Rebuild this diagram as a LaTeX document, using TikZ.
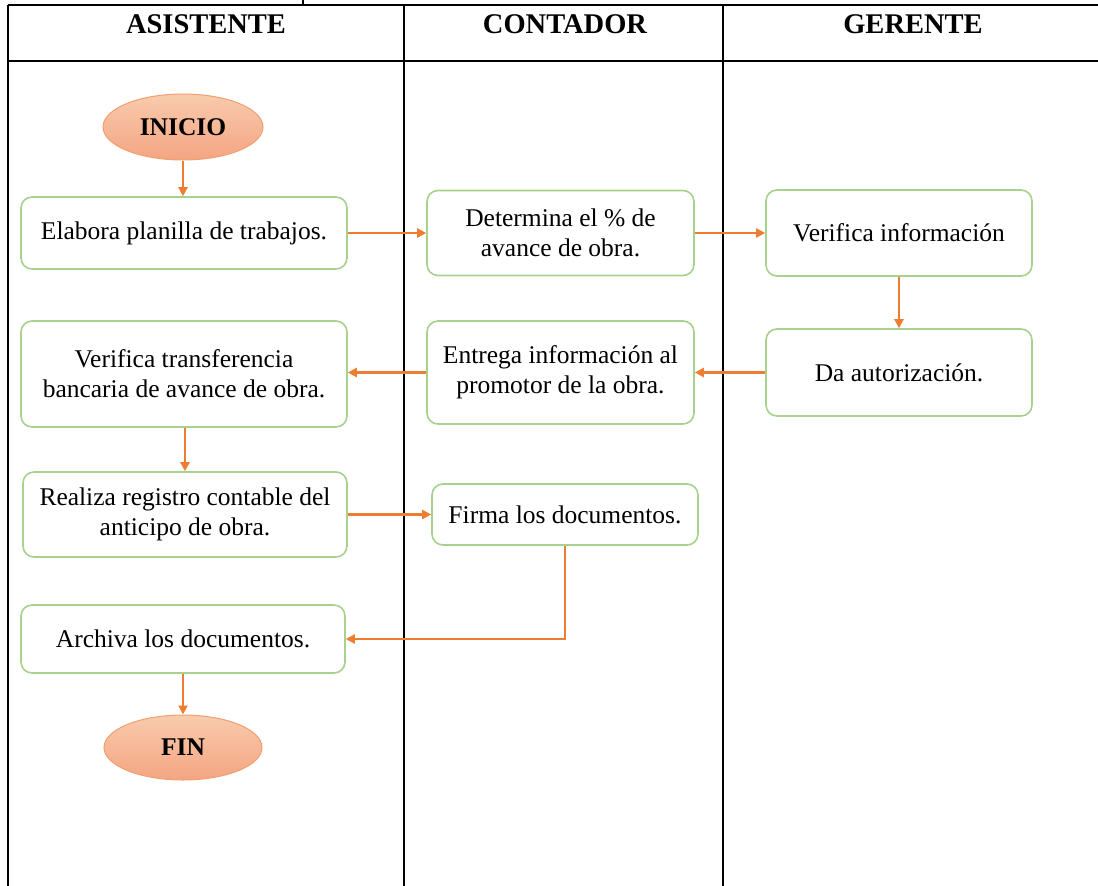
\documentclass[tikz,border=0pt]{standalone}
\usepackage{fontspec}
\setmainfont{Liberation Serif}
\usetikzlibrary{shapes.geometric,arrows.meta}
\definecolor{boxgreen}{HTML}{A9D18E}
\definecolor{arrorange}{HTML}{ED7D31}
\definecolor{ellA}{HTML}{F8CBAD}
\definecolor{ellB}{HTML}{F4A582}
\definecolor{ellEdge}{HTML}{F0A070}
\tikzset{
  lane/.style={line width=2.2pt, black},
  stepbox/.style={draw=boxgreen, line width=1.6pt, rounded corners=11pt, fill=white, align=center, font=\fontsize{25.5}{30}\selectfont, inner sep=0pt},
  term/.style={ellipse, draw=ellEdge, line width=1pt, top color=ellA, bottom color=ellB, font=\fontsize{25.5}{30}\selectfont\bfseries, inner sep=0pt},
  hdr/.style={font=\fontsize{28.5}{32}\selectfont\bfseries},
  flow/.style={draw=arrorange, line width=2.2pt, -{Triangle[length=9pt,width=9pt]}},
}
\begin{document}
\begin{tikzpicture}[x=1pt,y=-1pt]
\useasboundingbox (0,0) rectangle (1098,886);
% table lines
\draw[lane] (8,5) -- (1098,5);
\draw[lane] (303,0) -- (303,5);
\draw[lane] (8,5) -- (8,886);
\draw[lane] (404,5) -- (404,886);
\draw[lane] (723,5) -- (723,886);
\draw[lane] (8,61) -- (1098,61);
% headers
\node[hdr] (h1) at (206,24) {ASISTENTE};
\node[hdr] (h2) at (565,24) {CONTADOR};
\node[hdr] (h3) at (913,24) {GERENTE};
% nodes
\node[term, minimum width=160pt, minimum height=66pt] (inicio) at (183,127) {INICIO};
\node[stepbox, minimum width=326pt, minimum height=72pt] (b1) at (184,233) {Elabora planilla de trabajos.};
\node[stepbox, minimum width=267pt, minimum height=85pt] (b2) at (560.5,233) {Determina el \% de\\avance de obra.};
\node[stepbox, minimum width=266pt, minimum height=86pt] (b3) at (899,233) {Verifica información};
\node[stepbox, minimum width=266pt, minimum height=87pt] (b4) at (899,372.5) {Da autorización.};
\node[stepbox, minimum width=267pt, minimum height=103pt] (b5) at (560.5,372.5) {Entrega información al\\promotor de la obra.};
\node[stepbox, minimum width=326pt, minimum height=106pt] (b6) at (184,374) {Verifica transferencia\\bancaria de avance de obra.};
\node[stepbox, minimum width=324pt, minimum height=85pt] (b7) at (185,514.5) {Realiza registro contable del\\anticipo de obra.};
\node[stepbox, minimum width=266pt, minimum height=61pt] (b8) at (565,514.5) {Firma los documentos.};
\node[stepbox, minimum width=324pt, minimum height=68pt] (b9) at (183,639) {Archiva los documentos.};
\node[term, minimum width=158pt, minimum height=65pt] (fin) at (183,747.5) {FIN};
% connectors
\draw[flow] (inicio.south) -- (inicio.south |- b1.north);
\draw[flow] (b1.east) -- (b2.west);
\draw[flow] (b2.east) -- (b3.west);
\draw[flow] (b3.south) -- (b4.north);
\draw[flow] (b4.west) -- (b4.west -| b5.east);
\draw[flow] (b5.west) -- (b5.west -| b6.east);
\draw[flow] (b6.south -| b7.north) -- (b7.north);
\draw[flow] (b7.east) -- (b7.east -| b8.west);
\draw[flow] (b8.south) |- (b9.east);
\draw[flow] (b9.south) -- (b9.south |- fin.north);
\end{tikzpicture}
\end{document}
